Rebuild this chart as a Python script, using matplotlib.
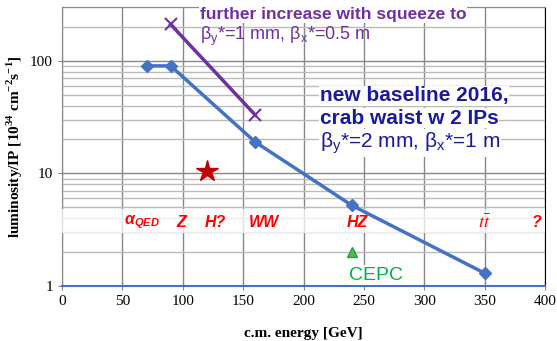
import matplotlib
matplotlib.use("Agg")
import matplotlib.pyplot as plt
from matplotlib.ticker import FixedLocator, NullFormatter

# Data
baseline_E = [70, 90, 160, 240, 350]
baseline_L = [90, 90, 19, 5.2, 1.3]
squeeze_E = [90, 160]
squeeze_L = [210, 33]
star_E, star_L = [120], [10.4]
cepc_E, cepc_L = [240], [2.0]
x_ticks = [0, 50, 100, 150, 200, 250, 300, 350, 400]
y_ticks = [1, 10, 100]
proc_labels = [r"α$_\mathregular{QED}$", "Z", "H?", "WW", "HZ", r"$t\bar{t}$", "?"]
proc_E = [66, 99, 127, 167, 245, 349.5, 393]
proc_L = 3.65

fig = plt.figure(figsize=(5.57, 3.41), dpi=100)
ax = fig.add_axes([62/557, 1-286/341, (545-62)/557, (286-7)/341])
ax.set_yscale("log")
ax.set_xlim(0, 400)
ax.set_ylim(1, 300)

ax.xaxis.set_major_locator(FixedLocator(x_ticks))
ax.yaxis.set_major_locator(FixedLocator(y_ticks))
ax.set_yticklabels(["1", "10", "100"])
ax.yaxis.set_minor_formatter(NullFormatter())
ax.grid(True, which="major", color="#888888", lw=1.0)
ax.grid(True, which="minor", axis="y", color="#bbbbbb", lw=1.0)
ax.set_axisbelow(True)
for s in ["left", "top"]:
    ax.spines[s].set_color("#888888")
ax.spines["right"].set_color("black")
ax.spines["bottom"].set_color("#4472c4")
ax.spines["bottom"].set_linewidth(1.5)
ax.tick_params(axis="both", which="major", direction="inout", length=6, color="#888888",
               labelsize=11, labelfontfamily="Liberation Serif")
ax.tick_params(axis="y", which="minor", length=0)

ax.plot(baseline_E, baseline_L, color="#4472c4", lw=2.5, marker="D", ms=6, zorder=5)
ax.plot(squeeze_E, squeeze_L, color="#7030a0", lw=2.5, marker="x", ms=9, mew=1.5, zorder=5)
ax.plot(star_E, star_L, color="#c00000", marker="*", ms=16, ls="none", zorder=6)
ax.plot(cepc_E, cepc_L, color="#00b050", marker="^", ms=7, mfc="#70ad47", ls="none", zorder=6)

ax.text(238, 1.25, "CEPC", color="#00b050", fontsize=14, fontfamily="Liberation Sans",
        ha="left", va="center", zorder=7,
        bbox=dict(facecolor="white", edgecolor="none", pad=1))

ax.axhspan(2.95, 4.8, color="white", alpha=0.75, zorder=3, lw=0)
for lab, e in zip(proc_labels, proc_E):
    if lab.startswith("$t"):
        ax.text(e, proc_L, lab, color="red", fontsize=13, math_fontfamily="stix",
                ha="center", va="center", zorder=7)
    else:
        ax.text(e, proc_L, lab, color="red", fontsize=11.5, fontweight="bold", style="italic",
                fontfamily="Liberation Sans", ha="center", va="center", zorder=7)

fig.text(200/557, 1-15/341, "further increase with squeeze to", color="#7030a0",
         fontsize=12.5, fontweight="bold", fontfamily="Liberation Sans", va="center",
         bbox=dict(facecolor="white", edgecolor="none", pad=0.5), zorder=10)
fig.text(200/557, 1-36/341, r"β$_\mathregular{y}$*=1 mm, β$_\mathregular{x}$*=0.5 m",
         color="#7030a0", fontsize=13, fontfamily="Liberation Sans", va="center", zorder=10)

navy = "#1a1aa0"
fig.text(320/557, 1-96/341, "new baseline 2016,", color=navy, fontsize=15,
         fontweight="bold", fontfamily="Liberation Sans", va="center",
         bbox=dict(facecolor="white", edgecolor="none", pad=0.5))
fig.text(320/557, 1-118/341, "crab waist w 2 IPs", color=navy, fontsize=15,
         fontweight="bold", fontfamily="Liberation Sans", va="center",
         bbox=dict(facecolor="white", edgecolor="none", pad=0.5))
fig.text(320/557, 1-143/341, r"β$_\mathregular{y}$*=2 mm, β$_\mathregular{x}$*=1 m",
         color=navy, fontsize=15, fontfamily="Liberation Sans", va="center",
         bbox=dict(facecolor="white", edgecolor="none", pad=0.5))

ax.set_xlabel("c.m. energy [GeV]", fontfamily="Liberation Serif", fontweight="bold",
              fontsize=11, labelpad=14)
ax.set_ylabel(r"luminosity/IP [10$^\mathregular{34}$ cm$^\mathregular{-2}$s$^\mathregular{-1}$]",
              fontfamily="Liberation Serif", fontweight="bold", fontsize=11, labelpad=4)

fig.savefig("out.png", dpi=100)
